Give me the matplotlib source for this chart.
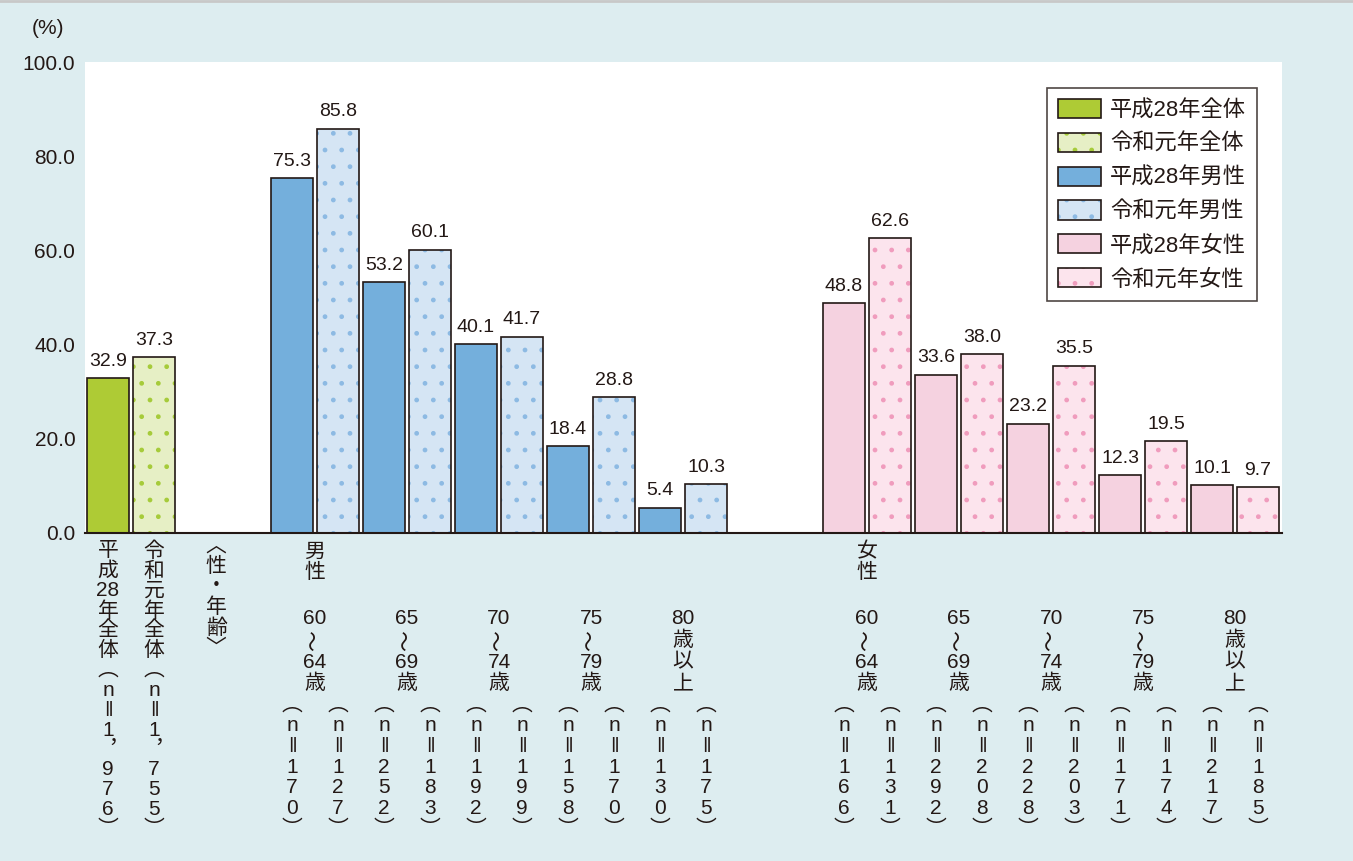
import matplotlib
matplotlib.use('Agg')
import matplotlib.pyplot as plt
import numpy as np
from matplotlib.patches import Patch
from matplotlib.legend_handler import HandlerTuple
from matplotlib.lines import Line2D

plt.rcParams['font.family'] = ['Liberation Sans', 'Noto Sans CJK JP', 'DejaVu Sans']
plt.rcParams['hatch.linewidth'] = 1.0

# data
total_h28 = 32.9
total_r1 = 37.3
ages = ['60～64歳', '65～69歳', '70～74歳', '75～79歳', '80歳以上']
men_h28 = [75.3, 53.2, 40.1, 18.4, 5.4]
men_r1 = [85.8, 60.1, 41.7, 28.8, 10.3]
women_h28 = [48.8, 33.6, 23.2, 12.3, 10.1]
women_r1 = [62.6, 38.0, 35.5, 19.5, 9.7]
n_total = ['1，976', '1，755']
n_men = [(170, 127), (252, 183), (192, 199), (158, 170), (130, 175)]
n_women = [(166, 131), (292, 208), (228, 203), (171, 174), (217, 185)]
legend_labels = ['平成28年全体', '令和元年全体', '平成28年男性', '令和元年男性', '平成28年女性', '令和元年女性']
yticks = [0, 20, 40, 60, 80, 100]

# colours
c_edge = '#231815'
c_green, c_green_l, c_green_dot = '#aecb35', '#e6efc5', '#a6cb3a'
c_blue, c_blue_l, c_blue_dot = '#74afdc', '#d5e5f4', '#8dbae3'
c_pink, c_pink_l, c_pink_dot = '#f5d2e0', '#fce4ed', '#f09cbd'
bg = '#ddedf0'

fig = plt.figure(figsize=(13.53, 8.61), dpi=100, facecolor=bg)
ax = fig.add_axes([85 / 1353, 1 - 533 / 861, (1282 - 85) / 1353, (533 - 62) / 861])
ax.set_facecolor('white')

# slot layout: total pair at 0, men groups start at slot 4, women at slot 16
x_total = np.array([0.5, 1.5])
x_men = 4.5 + np.arange(len(ages)) * 2
x_women = 16.5 + np.arange(len(ages)) * 2
w = 0.9


def draw_bars(x, vals, face, dot=None):
    if dot is None:
        ax.bar(x, vals, w, color=face, edgecolor=c_edge, linewidth=1.2, zorder=2)
    else:
        ax.bar(x, vals, w, color=face, edgecolor=dot, hatch='.', linewidth=0, zorder=2)
        ax.bar(x, vals, w, color='none', edgecolor=c_edge, linewidth=1.2, zorder=3)
    for xi, v in zip(np.atleast_1d(x), np.atleast_1d(vals)):
        ax.annotate(f'{v:.1f}', xy=(xi, v), xytext=(0, 9), textcoords='offset points',
                    ha='center', va='baseline', fontsize=14, color='#231815')


draw_bars(x_total[:1], [total_h28], c_green)
draw_bars(x_total[1:], [total_r1], c_green_l, c_green_dot)
draw_bars(x_men, men_h28, c_blue)
draw_bars(x_men + 1, men_r1, c_blue_l, c_blue_dot)
draw_bars(x_women, women_h28, c_pink)
draw_bars(x_women + 1, women_r1, c_pink_l, c_pink_dot)

ax.set_xlim(0, 26.02)
ax.set_ylim(0, 100)
ax.set_yticks(yticks)
ax.set_yticklabels([f'{t:.1f}' for t in yticks], fontsize=15, color='#231815')
ax.tick_params(axis='y', length=0, pad=7)
ax.set_xticks([])
for s in ['top', 'right', 'left']:
    ax.spines[s].set_visible(False)
ax.spines['bottom'].set_color(c_edge)
ax.spines['bottom'].set_linewidth(1.5)

fig.text(48 / 1353, 1 - 29 / 861, '(%)', fontsize=15, ha='center', va='center', color='#231815')

# vertical labels below the axis (pixel positions converted to points)
px = 0.72


def vtext(x, lines, y0, pitch, size=15):
    for i, s in enumerate(lines):
        rot = 0
        if s == '～':
            rot = 90
        ax.annotate(s, xy=(x, 0), xycoords=ax.get_xaxis_transform(),
                    xytext=(0, -(y0 + i * pitch - 533) * px), textcoords='offset points',
                    ha='center', va='center', fontsize=size, color='#231815',
                    rotation=rot, rotation_mode='anchor', annotation_clip=False)


def n_lines(n):
    return ['︵', 'n', '‖'] + list(str(n)) + ['︶']


total_names = ['平成28年全体', '令和元年全体']
for xi, name, n in zip(x_total, total_names, n_total):
    chars = ['平', '成', '28', '年', '全', '体'] if name.startswith('平') else list(name)
    vtext(xi, chars + ['︵', 'n', '‖'] + ['1', '︐', n[2], n[3], n[4]] + ['︶'], 551, 19.9)

vtext(2.85, ['︿', '性', '・', '年', '齢', '﹀'], 546, 20.5)


def age_lines(a):
    if '以上' in a:
        return [a[:2], '歳', '以', '上']
    return [a[:2], '～', a[3:5], '歳']


for xs, title, ns in [(x_men, ['男', '性'], n_men), (x_women, ['女', '性'], n_women)]:
    vtext(xs[0] + 0.5, title, 552, 20)
    for xi, a, (n1, n2) in zip(xs, ages, ns):
        vtext(xi + 0.5, age_lines(a), 619, 21.5)
        vtext(xi, n_lines(n1), 705, 20.7)
        vtext(xi + 1, n_lines(n2), 705, 20.7)

# legend
faces = [(c_green, None), (c_green_l, c_green_dot), (c_blue, None),
         (c_blue_l, c_blue_dot), (c_pink, None), (c_pink_l, c_pink_dot)]
handles = []
for face, dot in faces:
    if dot is None:
        handles.append(Patch(facecolor=face, edgecolor=c_edge, linewidth=1.2))
    else:
        handles.append((Patch(facecolor=face, edgecolor=dot, hatch='.', linewidth=0),
                        Patch(facecolor='none', edgecolor=c_edge, linewidth=1.2)))
leg = ax.legend(handles, legend_labels, handler_map={tuple: HandlerTuple(ndivide=1, pad=0)},
                loc='upper right', bbox_to_anchor=((1257 - 85) / (1282 - 85), (533 - 88) / (533 - 62)),
                fontsize=16, frameon=True, fancybox=False, edgecolor=c_edge,
                handlelength=1.9, handleheight=0.95, labelspacing=0.52, handletextpad=0.42,
                borderpad=0.5, borderaxespad=0)
leg.get_frame().set_linewidth(1.2)
for t in leg.get_texts():
    t.set_color('#231815')

# thin grey line on top of the figure
fig.add_artist(Line2D([0, 1], [1 - 0.5 / 861, 1 - 0.5 / 861], color='#c8c8c8', linewidth=2,
                      transform=fig.transFigure))

fig.savefig('out.png', dpi=100, facecolor=bg)
